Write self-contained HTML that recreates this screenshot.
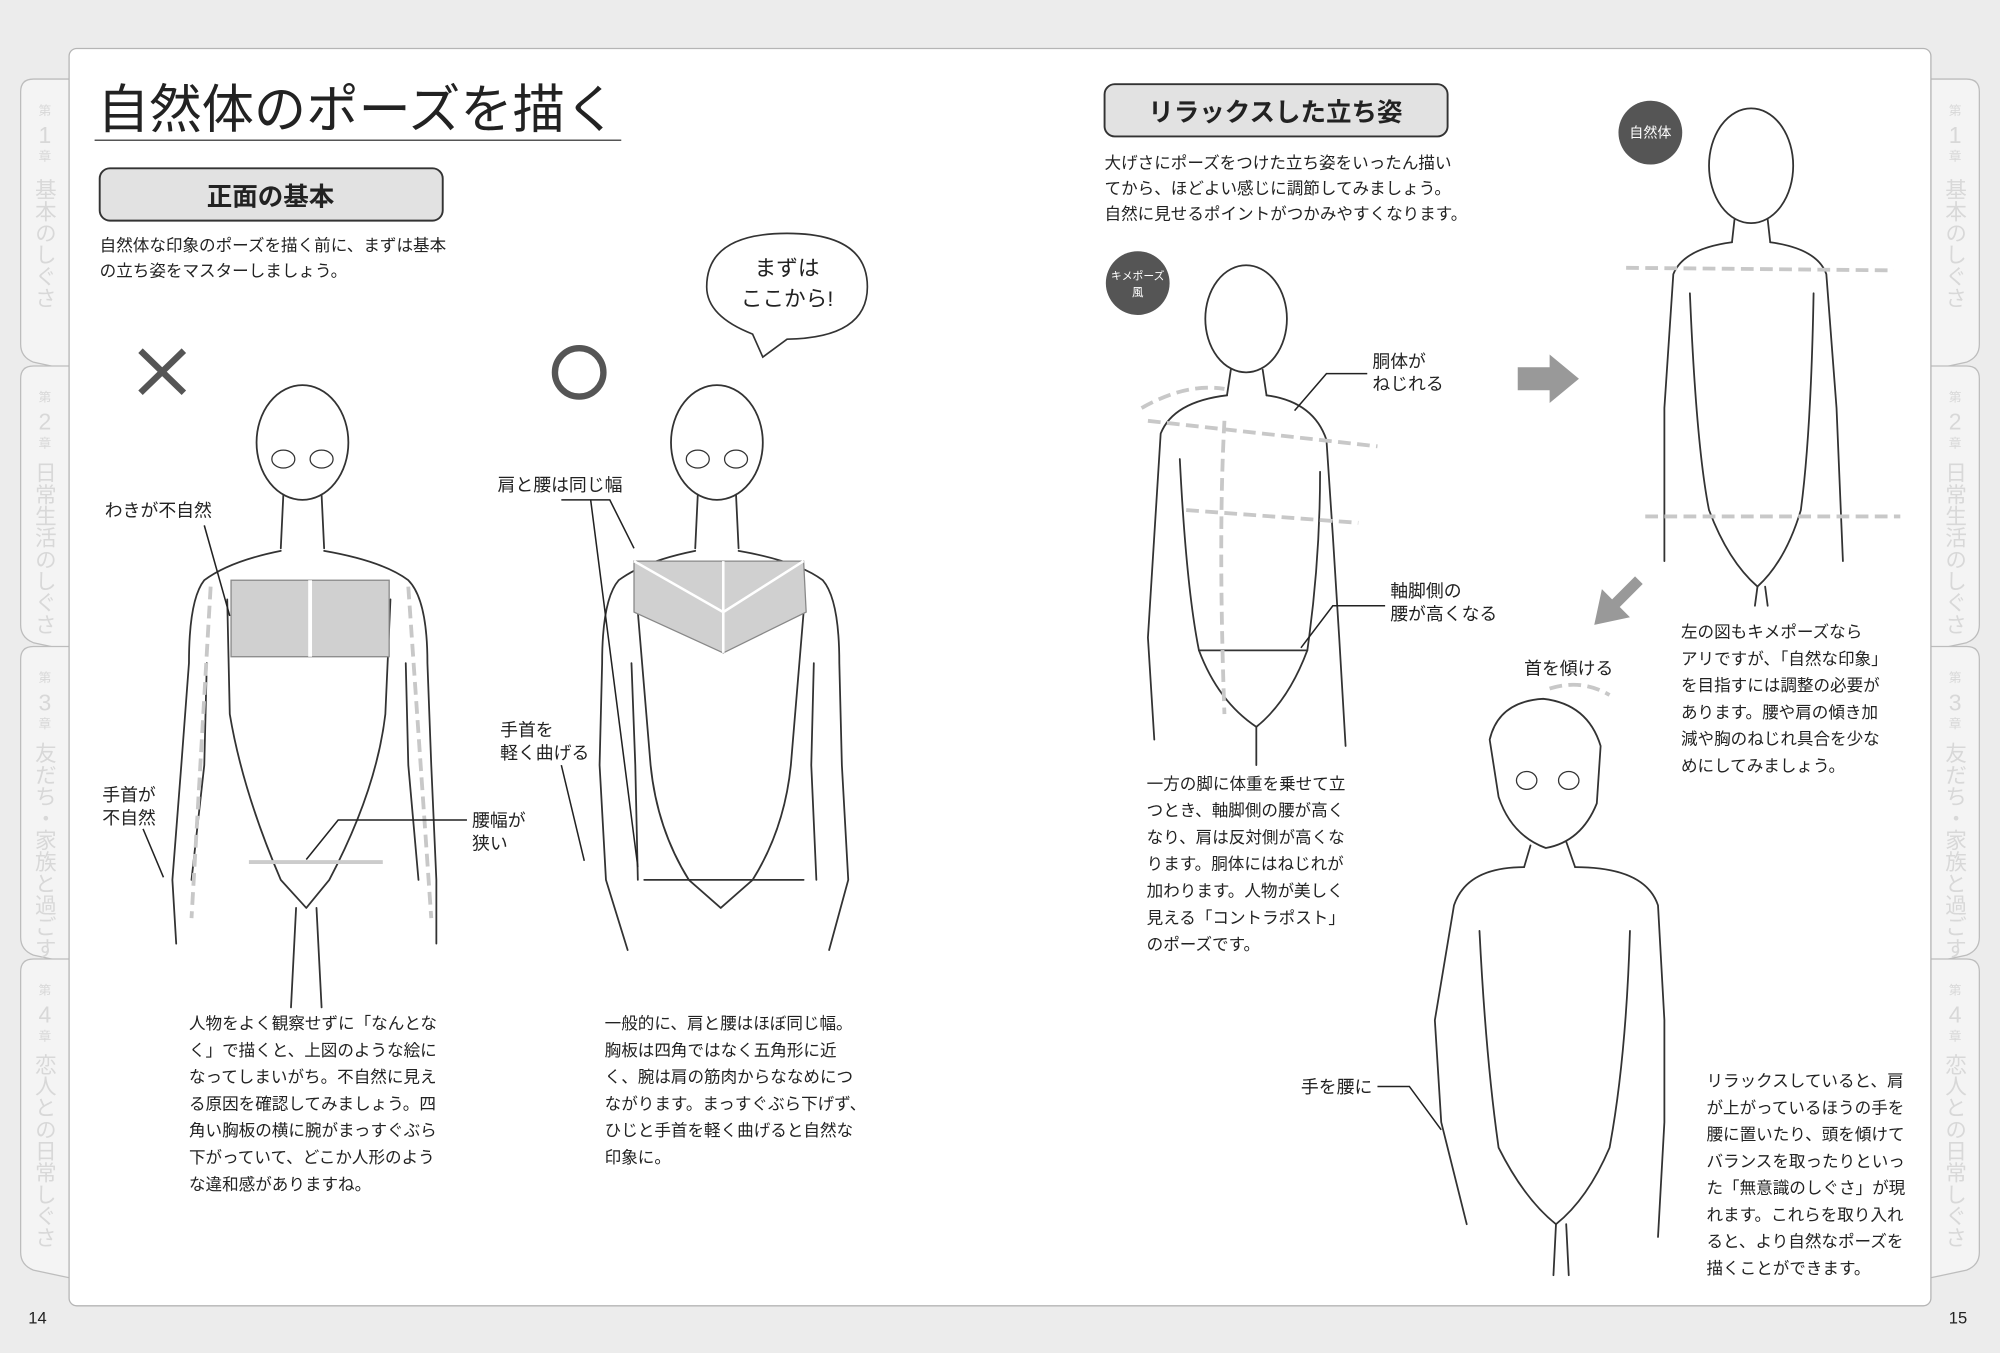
<!DOCTYPE html>
<html><head><meta charset="utf-8">
<style>
html,body{margin:0;padding:0;background:#ececec;}
svg{display:block;}
text{font-family:"Liberation Sans","Noto Sans CJK JP",sans-serif;fill:#222;}
.b{font-weight:bold;}
.fig{fill:none;stroke:#333;stroke-width:1.4;stroke-linecap:round;stroke-linejoin:round;}
.guide{fill:none;stroke:#c8c8c8;stroke-width:3;stroke-dasharray:10 5;}
.lead{fill:none;stroke:#222;stroke-width:1.2;}
.tab{fill:#d8d8d8;}
</style></head><body>
<svg width="2000" height="1353" viewBox="0 0 1568 1061" xmlns="http://www.w3.org/2000/svg">
<rect x="0" y="0" width="1568" height="1061" fill="#ececec"/>
<g fill="#f4f4f4" stroke="#bdbdbd" stroke-width="1">
<path d="M54,62 L26,62 Q16,62 16,72 L16,270 Q16,280 26,284 L54,290 Z"/>
<path d="M54,287 L26,287 Q16,287 16,297 L16,490 Q16,500 26,504 L54,510 Z"/>
<path d="M54,507 L26,507 Q16,507 16,517 L16,735 Q16,745 26,749 L54,755 Z"/>
<path d="M54,752 L26,752 Q16,752 16,762 L16,982 Q16,992 26,996 L54,1002 Z"/>
<path d="M1514,62 L1542,62 Q1552,62 1552,72 L1552,270 Q1552,280 1542,284 L1514,290 Z"/>
<path d="M1514,287 L1542,287 Q1552,287 1552,297 L1552,490 Q1552,500 1542,504 L1514,510 Z"/>
<path d="M1514,507 L1542,507 Q1552,507 1552,517 L1552,735 Q1552,745 1542,749 L1514,755 Z"/>
<path d="M1514,752 L1542,752 Q1552,752 1552,762 L1552,982 Q1552,992 1542,996 L1514,1002 Z"/>
</g>
<g>
<text class="tab" x="35" y="90" text-anchor="middle" font-size="10">第</text><text class="tab" x="35" y="112" text-anchor="middle" font-size="18">1</text><text class="tab" x="35" y="126" text-anchor="middle" font-size="10">章</text>
<text class="tab" x="35" y="315" text-anchor="middle" font-size="10">第</text><text class="tab" x="35" y="337" text-anchor="middle" font-size="18">2</text><text class="tab" x="35" y="351" text-anchor="middle" font-size="10">章</text>
<text class="tab" x="35" y="535" text-anchor="middle" font-size="10">第</text><text class="tab" x="35" y="557" text-anchor="middle" font-size="18">3</text><text class="tab" x="35" y="571" text-anchor="middle" font-size="10">章</text>
<text class="tab" x="35" y="780" text-anchor="middle" font-size="10">第</text><text class="tab" x="35" y="802" text-anchor="middle" font-size="18">4</text><text class="tab" x="35" y="816" text-anchor="middle" font-size="10">章</text>
<text class="tab" x="1533" y="90" text-anchor="middle" font-size="10">第</text><text class="tab" x="1533" y="112" text-anchor="middle" font-size="18">1</text><text class="tab" x="1533" y="126" text-anchor="middle" font-size="10">章</text>
<text class="tab" x="1533" y="315" text-anchor="middle" font-size="10">第</text><text class="tab" x="1533" y="337" text-anchor="middle" font-size="18">2</text><text class="tab" x="1533" y="351" text-anchor="middle" font-size="10">章</text>
<text class="tab" x="1533" y="535" text-anchor="middle" font-size="10">第</text><text class="tab" x="1533" y="557" text-anchor="middle" font-size="18">3</text><text class="tab" x="1533" y="571" text-anchor="middle" font-size="10">章</text>
<text class="tab" x="1533" y="780" text-anchor="middle" font-size="10">第</text><text class="tab" x="1533" y="802" text-anchor="middle" font-size="18">4</text><text class="tab" x="1533" y="816" text-anchor="middle" font-size="10">章</text>
</g>
<g font-size="17">
<text class="tab" x="35" y="140" style="writing-mode:vertical-rl">基本のしぐさ</text>
<text class="tab" x="35" y="362" style="writing-mode:vertical-rl">日常生活のしぐさ</text>
<text class="tab" x="35" y="582" style="writing-mode:vertical-rl">友だち・家族と過ごす</text>
<text class="tab" x="35" y="826" style="writing-mode:vertical-rl">恋人との日常しぐさ</text>
<text class="tab" x="1533" y="140" style="writing-mode:vertical-rl">基本のしぐさ</text>
<text class="tab" x="1533" y="362" style="writing-mode:vertical-rl">日常生活のしぐさ</text>
<text class="tab" x="1533" y="582" style="writing-mode:vertical-rl">友だち・家族と過ごす</text>
<text class="tab" x="1533" y="826" style="writing-mode:vertical-rl">恋人との日常しぐさ</text>
</g>
<rect x="54" y="38" width="1460" height="986" rx="6" fill="#fff" stroke="#b5b5b5" stroke-width="1"/>
<text x="22" y="1038" font-size="13">14</text>
<text x="1528" y="1038" font-size="13">15</text>

<text x="76" y="100" font-size="41">自然体のポーズを描く</text>
<line x1="74" y1="110" x2="487" y2="110" stroke="#555" stroke-width="1.2"/>
<rect x="78" y="132" width="269" height="41" rx="8" fill="#e2e2e2" stroke="#333" stroke-width="1.5"/>
<text x="212" y="161" font-size="20" text-anchor="middle" class="b">正面の基本</text>
<text x="78" y="197" font-size="13">自然体な印象のポーズを描く前に、まずは基本</text>
<text x="78" y="217" font-size="13">の立ち姿をマスターしましょう。</text>

<path d="M110,275 L144,308 M144,275 L110,308" stroke="#555" stroke-width="5"/>
<circle cx="454" cy="292" r="19" fill="none" stroke="#555" stroke-width="5"/>

<path d="M590,262 Q554,248 554,225 Q554,183 617,183 Q680,183 680,225 Q680,265 617,266 L598,280 Z" fill="#fff" stroke="#333" stroke-width="1.3"/>
<text x="617" y="216" font-size="17" text-anchor="middle">まずは</text>
<text x="617" y="240" font-size="17" text-anchor="middle">ここから!</text>

<g class="fig">
<ellipse cx="237" cy="347" rx="36" ry="45"/>
<path d="M222,388 L220,430 M252,388 L254,430"/>
<path d="M220,432 Q180,440 160,455 Q148,470 148,520 L142,600 L135,690 L138,740"/>
<path d="M254,432 Q300,440 320,455 Q335,470 335,520 L338,600 L342,690 L342,740"/>
<path d="M178,470 L180,560 Q190,620 220,690 L240,712 L258,690 Q295,620 302,560 L306,470"/>
<path d="M232,712 L228,790 M248,712 L252,790"/>
<path d="M162,520 L160,600 L150,690 M318,520 L320,600 L328,690"/>
</g>
<rect x="181" y="455" width="124" height="60" fill="#d0d0d0" stroke="#888"/>
<line x1="243" y1="455" x2="243" y2="515" stroke="#fff" stroke-width="3"/>
<ellipse cx="222" cy="360" rx="9" ry="7" fill="none" stroke="#333"/><ellipse cx="252" cy="360" rx="9" ry="7" fill="none" stroke="#333"/>
<path d="M165,460 L150,720 M320,460 L338,720" class="guide"/>
<path d="M195,676 L300,676" stroke="#ccc" stroke-width="3"/>
<text x="82" y="405" font-size="14">わきが不自然</text>
<path d="M160,412 L180,483" class="lead"/>
<text x="80" y="628" font-size="14">手首が</text><text x="80" y="646" font-size="14">不自然</text>
<path d="M112,650 L128,688" class="lead"/>
<text x="370" y="648" font-size="14">腰幅が</text><text x="370" y="666" font-size="14">狭い</text>
<path d="M366,643 L265,643 L240,674" class="lead"/>

<g class="fig">
<ellipse cx="562" cy="347" rx="36" ry="45"/>
<path d="M547,388 L545,430 M577,388 L579,430"/>
<path d="M545,432 Q505,440 485,455 Q472,470 472,520 L470,600 L475,690 L492,745"/>
<path d="M579,432 Q625,440 645,455 Q658,470 658,520 L660,600 L665,690 L650,745"/>
<path d="M500,480 Q505,540 510,600 Q515,650 540,690 L565,712 L590,690 Q615,650 620,600 Q625,540 630,480"/>
<path d="M495,520 L498,600 L500,690 M638,520 L636,600 L640,690"/>
<path d="M505,690 L630,690"/>
</g>
<path d="M497,440 L630,440 L632,480 L567,512 L497,480 Z" fill="#d0d0d0" stroke="#888"/>
<path d="M567,440 L567,512 M497,440 L567,480 L630,440" stroke="#fff" stroke-width="2" fill="none"/>
<ellipse cx="547" cy="360" rx="9" ry="7" fill="none" stroke="#333"/><ellipse cx="577" cy="360" rx="9" ry="7" fill="none" stroke="#333"/>
<text x="390" y="385" font-size="14">肩と腰は同じ幅</text>
<path d="M440,392 L478,392 L497,430 M463,392 L500,680" class="lead"/>
<text x="392" y="577" font-size="14">手首を</text><text x="392" y="595" font-size="14">軽く曲げる</text>
<path d="M440,600 L458,675" class="lead"/>

<g font-size="13">
<text x="148" y="807">人物をよく観察せずに「なんとな</text>
<text x="148" y="828">く」で描くと、上図のような絵に</text>
<text x="148" y="849">なってしまいがち。不自然に見え</text>
<text x="148" y="870">る原因を確認してみましょう。四</text>
<text x="148" y="891">角い胸板の横に腕がまっすぐぶら</text>
<text x="148" y="912">下がっていて、どこか人形のよう</text>
<text x="148" y="933">な違和感がありますね。</text>
<text x="474" y="807">一般的に、肩と腰はほぼ同じ幅。</text>
<text x="474" y="828">胸板は四角ではなく五角形に近</text>
<text x="474" y="849">く、腕は肩の筋肉からななめにつ</text>
<text x="474" y="870">ながります。まっすぐぶら下げず、</text>
<text x="474" y="891">ひじと手首を軽く曲げると自然な</text>
<text x="474" y="912">印象に。</text>
</g>

<rect x="866" y="66" width="269" height="41" rx="8" fill="#e2e2e2" stroke="#333" stroke-width="1.5"/>
<text x="1000" y="95" font-size="20" text-anchor="middle" class="b">リラックスした立ち姿</text>
<g font-size="13">
<text x="866" y="132">大げさにポーズをつけた立ち姿をいったん描い</text>
<text x="866" y="152">てから、ほどよい感じに調節してみましょう。</text>
<text x="866" y="172">自然に見せるポイントがつかみやすくなります。</text>
</g>
<circle cx="892" cy="222" r="25" fill="#555"/>
<text x="892" y="219" font-size="8.5" text-anchor="middle" style="fill:#fff">キメポーズ</text>
<text x="892" y="232" font-size="9" text-anchor="middle" style="fill:#fff">風</text>
<circle cx="1294" cy="104" r="25" fill="#555"/>
<text x="1294" y="108" font-size="11" text-anchor="middle" style="fill:#fff">自然体</text>

<g class="fig">
<ellipse cx="977" cy="250" rx="32" ry="42"/>
<path d="M965,290 L962,310 M990,290 L993,310"/>
<path d="M962,310 Q920,315 910,340 L905,420 L900,500 L905,580"/>
<path d="M993,310 Q1030,315 1040,345 L1045,420 L1050,500 L1055,585"/>
<path d="M925,360 Q930,460 940,510 Q955,550 985,570 Q1010,550 1025,510 Q1035,440 1035,370"/>
<path d="M985,570 L985,600 M940,510 L1025,510"/>
</g>
<path d="M895,320 Q930,300 960,305 M900,330 L1080,350 M930,400 L1065,410" class="guide"/>
<path d="M960,330 Q955,420 960,560" class="guide"/>
<text x="1076" y="288" font-size="14">胴体が</text><text x="1076" y="306" font-size="14">ねじれる</text>
<path d="M1072,293 L1040,293 L1015,322" class="lead"/>
<text x="1090" y="468" font-size="14">軸脚側の</text><text x="1090" y="486" font-size="14">腰が高くなる</text>
<path d="M1086,475 L1045,475 L1020,508" class="lead"/>
<g font-size="13">
<text x="899" y="619">一方の脚に体重を乗せて立</text>
<text x="899" y="640">つとき、軸脚側の腰が高く</text>
<text x="899" y="661">なり、肩は反対側が高くな</text>
<text x="899" y="682">ります。胴体にはねじれが</text>
<text x="899" y="703">加わります。人物が美しく</text>
<text x="899" y="724">見える「コントラポスト」</text>
<text x="899" y="745">のポーズです。</text>
</g>

<path d="M1190,288 L1215,288 L1215,278 L1238,297 L1215,316 L1215,306 L1190,306 Z" fill="#999"/>
<path d="M1288,458 L1270,476 L1278,484 L1250,490 L1256,462 L1264,470 L1282,452 Z" fill="#999"/>

<g class="fig">
<ellipse cx="1373" cy="130" rx="33" ry="45"/>
<path d="M1360,172 L1358,190 M1386,172 L1388,190"/>
<path d="M1358,190 Q1320,195 1312,215 L1305,320 L1305,440"/>
<path d="M1388,190 Q1425,195 1432,215 L1440,320 L1445,440"/>
<path d="M1325,230 Q1330,350 1340,400 Q1355,440 1378,460 Q1400,440 1412,400 Q1420,340 1422,230"/>
<path d="M1378,460 L1376,475 M1384,460 L1386,475"/>
</g>
<path d="M1275,210 L1485,212 M1290,405 L1490,405" class="guide"/>
<g font-size="13">
<text x="1318" y="500">左の図もキメポーズなら</text>
<text x="1318" y="521">アリですが、「自然な印象」</text>
<text x="1318" y="542">を目指すには調整の必要が</text>
<text x="1318" y="563">あります。腰や肩の傾き加</text>
<text x="1318" y="584">減や胸のねじれ具合を少な</text>
<text x="1318" y="605">めにしてみましょう。</text>
</g>

<text x="1195" y="529" font-size="14">首を傾ける</text>
<path d="M1215,540 Q1240,532 1262,545" class="guide"/>
<g class="fig">
<path d="M1168,580 Q1175,550 1210,548 Q1245,552 1255,585 L1252,630 Q1240,660 1212,665 Q1185,655 1175,625 Z"/>
<path d="M1200,663 L1195,680 M1228,660 L1235,680"/>
<path d="M1195,680 Q1150,680 1140,710 L1125,800 L1130,880 L1150,960"/>
<path d="M1235,680 Q1290,680 1300,710 L1305,800 L1305,880 L1300,970"/>
<path d="M1160,730 Q1165,830 1175,900 Q1195,940 1220,960 Q1245,940 1262,900 Q1275,830 1278,730"/>
<path d="M1220,960 L1218,1000 M1228,960 L1230,1000"/>
</g>
<ellipse cx="1197" cy="612" rx="8" ry="7" fill="none" stroke="#333"/><ellipse cx="1230" cy="612" rx="8" ry="7" fill="none" stroke="#333"/>
<text x="1020" y="857" font-size="14">手を腰に</text>
<path d="M1080,852 L1105,852 L1130,886" class="lead"/>
<g font-size="13">
<text x="1338" y="852">リラックスしていると、肩</text>
<text x="1338" y="873">が上がっているほうの手を</text>
<text x="1338" y="894">腰に置いたり、頭を傾けて</text>
<text x="1338" y="915">バランスを取ったりといっ</text>
<text x="1338" y="936">た「無意識のしぐさ」が現</text>
<text x="1338" y="957">れます。これらを取り入れ</text>
<text x="1338" y="978">ると、より自然なポーズを</text>
<text x="1338" y="999">描くことができます。</text>
</g>
</svg>
</body></html>
